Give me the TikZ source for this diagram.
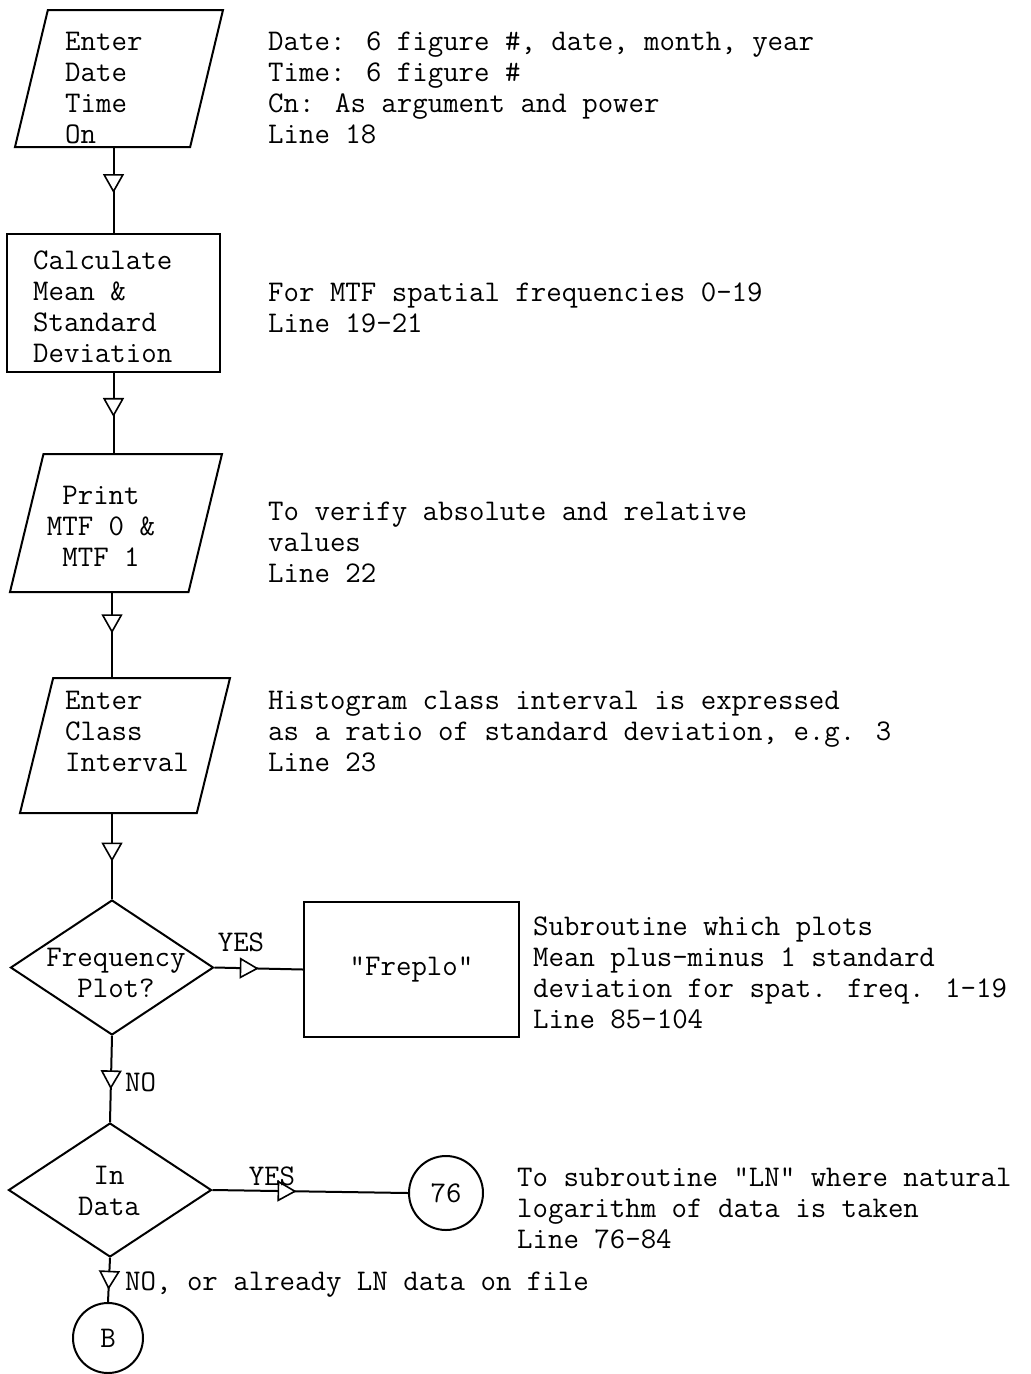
\documentclass[tikz,border=0pt]{standalone}
\usetikzlibrary{shapes.geometric,arrows.meta,decorations.markings}

\tikzset{
  tri/.tip={Triangle[length=19pt,width=21pt,fill=white,line width=1.6pt]},
  txt/.style={font=\fontsize{30}{31}\selectfont\ttfamily, inner sep=0pt, align=left},
  io/.style={trapezium, trapezium left angle=77, trapezium right angle=103,
    trapezium stretches=true, draw, line width=2pt, inner sep=2pt},
  proc/.style={rectangle, draw, line width=2pt, inner sep=0pt},
  dec/.style={diamond, draw, line width=2pt, inner sep=0pt},
  conn/.style={circle, draw, line width=2pt, inner sep=0pt, txt},
  flow/.style={line width=2pt, postaction={decorate,
    decoration={markings, mark=at position #1 with {\arrow{tri}}}}}
}

\begin{document}
\begin{tikzpicture}[x=1pt, y=-1pt]
	\useasboundingbox (0,0) rectangle (1031,1374);
	% boxes
	\node[io, minimum width=208pt, minimum height=137pt] (in1) at (119,78.5) {};
	\node[proc, minimum width=213pt, minimum height=138pt] (calc) at (113.5,303) {};
	\node[io, minimum width=212pt, minimum height=138pt] (prt) at (116,523) {};
	\node[io, minimum width=210pt, minimum height=135pt] (cls) at (125,745.5) {};
	\node[dec, minimum width=203pt, minimum height=135pt] (freq) at (112,967.5) {};
	\node[proc, txt, minimum width=215pt, minimum height=135pt] (freplo) at (411.5,969.5) {"Freplo"};
	\node[dec, minimum width=203pt, minimum height=134pt] (indata) at (110,1190) {};
	\node[conn, minimum size=74pt] (c76) at (446,1193) {76};
	\node[conn, minimum size=70pt] (cB) at (108,1338) {B};

	% texts in the boxes (base = last line)
	\node[txt, anchor=base west] (in1txt) at (65,143) {Enter\\Date\\Time\\On};
	\node[txt, anchor=base west] (calctxt) at (33,362) {Calculate\\Mean \&\\Standard\\Deviation};
	\node[txt, anchor=base, align=center] (prttxt) at (101,566) {Print\\MTF 0 \&\\MTF 1};
	\node[txt, anchor=base west] (clstxt) at (65,771) {Enter\\Class\\Interval};
	\node[txt, anchor=base, align=center] (freqtxt) at (116,997) {Frequency\\Plot?};
	\node[txt, anchor=base, align=center] (indatatxt) at (109,1215) {In\\Data};

	% flow lines
	\draw[flow=0.53] (in1.south -| calc.north) -- (calc.north);
	\draw[flow=0.55] (calc.south) -- (calc.south |- prt.north);
	\draw[flow=0.48] (prt.south -| freq.north) -- (freq.north |- cls.north);
	\draw[flow=0.56] (cls.south -| freq.north) -- (freq.north);
	\draw[flow=0.5] (freq.east) -- (freplo.west);
	\draw[flow=0.62] (freq.south) -- (indata.north);
	\draw[flow=0.43] (indata.east) -- (c76.west);
	\draw[flow=0.72] (indata.south) -- (cB.north);

	\node[txt, anchor=base] (yes1) at (241,951) {YES};
	\node[txt, anchor=base west] (no1) at (125,1091) {NO};
	\node[txt, anchor=base] (yes2) at (272,1185) {YES};
	\node[txt, anchor=base west] (no2) at (125,1290) {NO, or already LN data on file};

	% notes on the right (base = last line)
	\node[txt, anchor=base west] (note1) at (268,143) {Date: 6 figure \#, date, month, year\\Time: 6 figure \#\\Cn: As argument and power\\Line 18};
	\node[txt, anchor=base west] (note2) at (268,332) {For MTF spatial frequencies 0-19\\Line 19-21};
	\node[txt, anchor=base west] (note3) at (268,582) {To verify absolute and relative\\values\\Line 22};
	\node[txt, anchor=base west] (note4) at (268,771) {Histogram class interval is expressed\\as a ratio of standard deviation, e.g. 3\\Line 23};
	\node[txt, anchor=base west] (note5) at (533,1028) {Subroutine which plots\\Mean plus-minus 1 standard\\deviation for spat. freq. 1-19\\Line 85-104};
	\node[txt, anchor=base west] (note6) at (517,1248) {To subroutine "LN" where natural\\logarithm of data is taken\\Line 76-84};
\end{tikzpicture}
\end{document}
